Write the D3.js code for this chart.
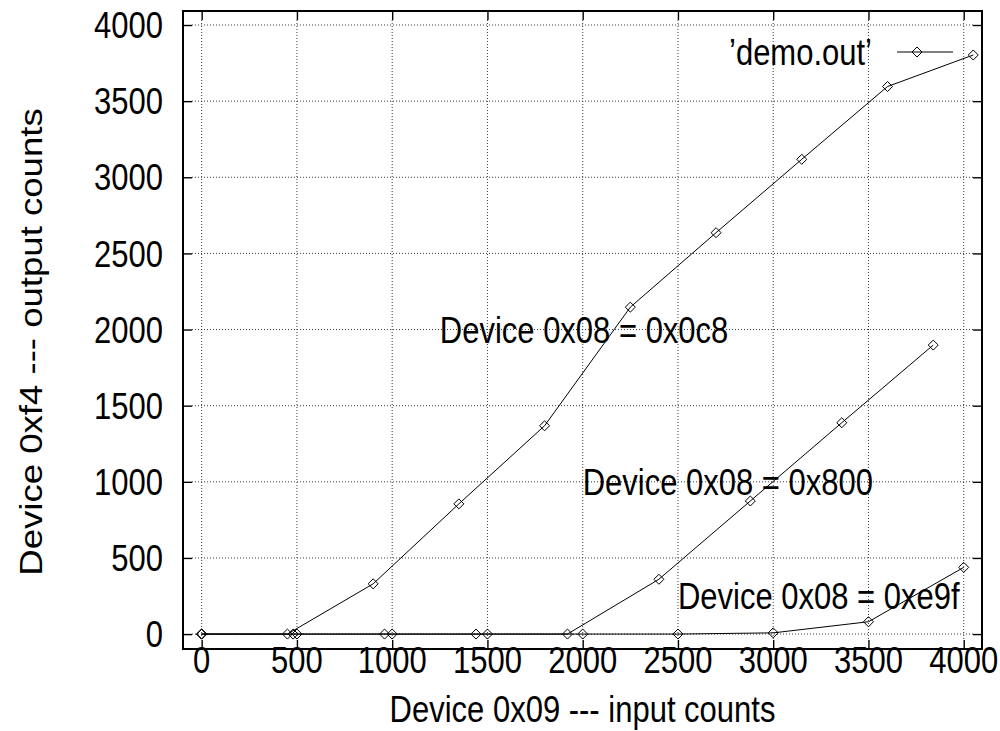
<!DOCTYPE html>
<html>
<head>
<meta charset="utf-8">
<script src="https://cdn.jsdelivr.net/npm/d3@7"></script>
<style>
  body { margin: 0; background: #fff; }
  text { font-family: "Liberation Sans", Arial, Helvetica, sans-serif; fill: #000; }
</style>
</head>
<body>
<div id="graph"></div>
<script>
// three blocks of the same data file, drawn with the same style
const xA = [0, 450, 900, 1350, 1800, 2250, 2700, 3150, 3600, 4050];
const yA = [0, 0, 330, 855, 1368, 2147, 2636, 3118, 3596, 3803];
const xB = [0, 480, 960, 1440, 1920, 2400, 2880, 3360, 3840];
const yB = [0, 0, 0, 0, 0, 360, 874, 1388, 1898];
const xC = [0, 500, 1000, 1500, 2000, 2500, 3000, 3500, 4000];
const yC = [0, 0, 0, 0, 0, 0, 8, 81, 438];

const xTicks = [0, 500, 1000, 1500, 2000, 2500, 3000, 3500, 4000];
const yTicks = [0, 500, 1000, 1500, 2000, 2500, 3000, 3500, 4000];

const labelText = ["Device 0x08 = 0x0c8", "Device 0x08 = 0x800", "Device 0x08 = 0xe9f"];
const labelX = [1250, 2000, 2500];
const labelY = [2000, 1000, 250];

const legendName = "\u2019demo.out\u2019";
const xTitle = "Device 0x09 --- input counts";
const yTitle = "Device 0xf4 --- output counts";

const W = 1000, H = 731;
const frame = { left: 183, right: 982, top: 11, bottom: 649 };
const fs = 31;        // font size
const stretch = 1.18; // the picture is taller than it is wide
const tickLen = 9;

const x = d3.scaleLinear().domain([-98, 4096]).range([frame.left, frame.right]);
const y = d3.scaleLinear().domain([-98, 4092]).range([frame.bottom, frame.top]);

const svg = d3.select("#graph").append("svg")
  .attr("width", W)
  .attr("height", H);

function addText(px, py, str, anchor, rotate) {
  return svg.append("text")
    .attr("transform", "translate(" + px + "," + py + ") scale(1," + stretch + ")" + (rotate ? " rotate(" + rotate + ")" : ""))
    .attr("text-anchor", anchor)
    .attr("font-size", fs)
    .text(str);
}

// grid
const grid = svg.append("g")
  .attr("stroke", "#222")
  .attr("stroke-width", 0.9)
  .attr("stroke-dasharray", "1,2");

grid.selectAll(".gx")
  .data(xTicks)
  .enter().append("line")
  .attr("x1", d => x(d)).attr("x2", d => x(d))
  .attr("y1", frame.top + tickLen).attr("y2", frame.bottom - tickLen);

grid.selectAll(".gy")
  .data(yTicks)
  .enter().append("line")
  .attr("y1", d => y(d)).attr("y2", d => y(d))
  .attr("x1", frame.left + tickLen).attr("x2", frame.right - tickLen);

// axes with inward ticks on all four sides
svg.append("g")
  .attr("transform", "translate(0," + frame.bottom + ")")
  .call(d3.axisBottom(x).tickValues(xTicks).tickSizeInner(-tickLen).tickSizeOuter(0).tickFormat(""));
svg.append("g")
  .attr("transform", "translate(0," + frame.top + ")")
  .call(d3.axisTop(x).tickValues(xTicks).tickSizeInner(-tickLen).tickSizeOuter(0).tickFormat(""));
svg.append("g")
  .attr("transform", "translate(" + frame.left + ",0)")
  .call(d3.axisLeft(y).tickValues(yTicks).tickSizeInner(-tickLen).tickSizeOuter(0).tickFormat(""));
svg.append("g")
  .attr("transform", "translate(" + frame.right + ",0)")
  .call(d3.axisRight(y).tickValues(yTicks).tickSizeInner(-tickLen).tickSizeOuter(0).tickFormat(""));

svg.selectAll(".domain").remove();
svg.selectAll(".tick line").attr("stroke", "#000").attr("stroke-width", 1.4);

svg.append("rect")
  .attr("x", frame.left).attr("y", frame.top)
  .attr("width", frame.right - frame.left)
  .attr("height", frame.bottom - frame.top)
  .attr("fill", "none")
  .attr("stroke", "#000")
  .attr("stroke-width", 2);

// tick labels
xTicks.forEach(d => addText(x(d), 660 + 0.358 * fs * stretch, d, "middle"));
yTicks.forEach(d => addText(163, y(d) + 0.358 * fs * stretch, d, "end"));

// axis titles
addText((frame.left + frame.right) / 2, 722, xTitle, "middle");
addText(42, 342, yTitle, "middle", -90);

// data
const blocks = [
  xA.map((v, i) => [v, yA[i]]),
  xB.map((v, i) => [v, yB[i]]),
  xC.map((v, i) => [v, yC[i]])
];

const line = d3.line().x(d => x(d[0])).y(d => y(d[1]));
const diamond = d3.symbol().type(d3.symbolDiamond2).size(64);

blocks.forEach(pts => {
  svg.append("path")
    .datum(pts)
    .attr("d", line)
    .attr("fill", "none")
    .attr("stroke", "#000")
    .attr("stroke-width", 1);

  svg.selectAll(null)
    .data(pts)
    .enter().append("path")
    .attr("d", diamond)
    .attr("transform", d => "translate(" + x(d[0]) + "," + y(d[1]) + ")")
    .attr("fill", "none")
    .attr("stroke", "#000")
    .attr("stroke-width", 1);
});

// labels inside the plot
labelText.forEach((t, i) => addText(x(labelX[i]), y(labelY[i]) + 0.358 * fs * stretch, t, "start"));

// key
addText(872, 52 + 0.358 * fs * stretch, legendName, "end");
svg.append("line")
  .attr("x1", 897).attr("x2", 953)
  .attr("y1", 52).attr("y2", 52)
  .attr("stroke", "#000");
svg.append("path")
  .attr("d", diamond)
  .attr("transform", "translate(917,52)")
  .attr("fill", "none")
  .attr("stroke", "#000");
</script>
</body>
</html>
